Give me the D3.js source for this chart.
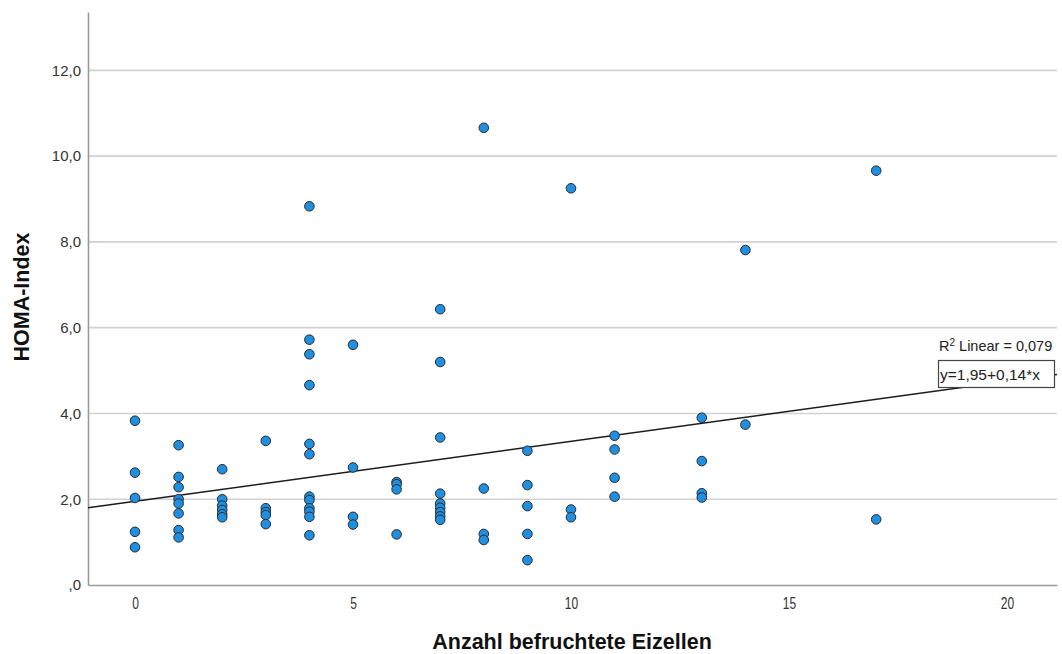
<!DOCTYPE html>
<html>
<head>
<meta charset="utf-8">
<script src="https://cdn.jsdelivr.net/npm/d3@7"></script>
<style>
  body { margin: 0; background: #fff; }
  svg { font-family: "Liberation Sans", Arial, sans-serif; }
</style>
</head>
<body>
<div id="chart"></div>
<script>
// Anzahl befruchtete Eizellen (x) and HOMA-Index (y), one entry per case
const eizellen = [
  0, 0, 0, 0, 0,
  1, 1, 1, 1, 1, 1, 1, 1,
  2, 2, 2, 2, 2, 2,
  3, 3, 3, 3, 3,
  4, 4, 4, 4, 4, 4, 4, 4, 4, 4, 4, 4,
  5, 5, 5, 5,
  6, 6, 6, 6,
  7, 7, 7, 7, 7, 7, 7, 7, 7,
  8, 8, 8, 8,
  9, 9, 9, 9, 9,
  10, 10, 10,
  11, 11, 11, 11,
  13, 13, 13, 13,
  14, 14,
  17, 17
];
const homa = [
  3.83, 2.62, 2.03, 1.24, 0.88,
  3.26, 2.52, 2.28, 2.00, 1.90, 1.67, 1.28, 1.11,
  2.70, 2.00, 1.85, 1.75, 1.65, 1.58,
  3.36, 1.79, 1.70, 1.63, 1.42,
  8.83, 5.72, 5.38, 4.66, 3.29, 3.05, 2.06, 1.98, 1.79, 1.71, 1.59, 1.16,
  5.60, 2.74, 1.59, 1.41,
  2.40, 2.35, 2.23, 1.18,
  6.43, 5.20, 3.44, 2.13, 1.90, 1.80, 1.70, 1.60, 1.52,
  10.66, 2.25, 1.19, 1.05,
  3.13, 2.33, 1.84, 1.19, 0.58,
  9.25, 1.76, 1.58,
  3.48, 3.16, 2.50, 2.06,
  3.90, 2.89, 2.14, 2.04,
  7.81, 3.74,
  9.66, 1.53
];

const xTicks = [0, 5, 10, 15, 20];
const yTicks = [0, 2, 4, 6, 8, 10, 12];

// linear fit as printed in the chart
const intercept = 1.95;
const slope = 0.14;
const rSquared = '0,079';
const fitLabel = 'y=1,95+0,14*x';

const width = 1062, height = 654;
const plot = { left: 88, right: 1057, top: 12, bottom: 585 };

const svg = d3.select('#chart').append('svg')
  .attr('width', width)
  .attr('height', height);

const x = d3.scaleLinear()
  .domain([-1.078, 21.147])
  .range([plot.left, plot.right]);

const y = d3.scaleLinear()
  .domain([0, 13.36])
  .range([plot.bottom, plot.top]);

// SPSS style german numbers: ",0", "2,0" ...
const deNum = d => d === 0 ? ',0' : d3.format('.1f')(d).replace('.', ',');

// horizontal grid lines
svg.append('g')
  .selectAll('line')
  .data(yTicks.filter(d => d > 0))
  .join('line')
  .attr('x1', plot.left)
  .attr('x2', plot.right)
  .attr('y1', d => y(d))
  .attr('y2', d => y(d))
  .style('stroke', '#d2d2d2')
  .style('stroke-width', 1.6);

// axes
const yAxis = svg.append('g')
  .attr('transform', `translate(${plot.left},0)`)
  .call(d3.axisLeft(y).tickValues(yTicks).tickFormat(deNum).tickSize(0).tickPadding(7));

const xAxis = svg.append('g')
  .attr('transform', `translate(0,${plot.bottom})`)
  .call(d3.axisBottom(x).tickValues(xTicks).tickFormat(d => d).tickSize(0).tickPadding(12));

[xAxis, yAxis].forEach(a => {
  a.select('.domain').style('stroke', '#9a9a9a').style('stroke-width', 1.6);
  a.selectAll('text').style('fill', '#333').style('font-size', '15px');
});
// x tick numbers are drawn narrow in the original
xAxis.selectAll('.tick text').attr('transform', 'scale(0.8,1.05)');

// regression line over the whole x range
const [x0, x1] = x.domain();
svg.append('line')
  .attr('x1', x(x0))
  .attr('y1', y(intercept + slope * x0))
  .attr('x2', x(x1))
  .attr('y2', y(intercept + slope * x1))
  .style('stroke', '#1c1c1c')
  .style('stroke-width', 1.5);

// points
svg.append('g')
  .selectAll('circle')
  .data(eizellen.map((e, i) => [e, homa[i]]))
  .join('circle')
  .attr('cx', d => x(d[0]))
  .attr('cy', d => y(d[1]))
  .attr('r', 4.8)
  .style('fill', '#1e8fe1')
  .style('stroke', '#2b2b2b')
  .style('stroke-width', 1);

// fit labels
const r2 = svg.append('text')
  .attr('x', 939)
  .attr('y', 351)
  .style('font-size', '14.5px')
  .style('fill', '#222');
r2.append('tspan').text('R');
r2.append('tspan').attr('dy', -5).style('font-size', '10px').text('2');
r2.append('tspan').attr('dy', 5).text(' Linear = ' + rSquared);

svg.append('rect')
  .attr('x', 938.5)
  .attr('y', 360.5)
  .attr('width', 116)
  .attr('height', 27)
  .style('fill', '#fff')
  .style('stroke', '#444')
  .style('stroke-width', 1.2);

svg.append('text')
  .attr('x', 940)
  .attr('y', 380)
  .style('font-size', '15.5px')
  .style('fill', '#222')
  .text(fitLabel);

// axis titles
svg.append('text')
  .attr('x', 572)
  .attr('y', 649)
  .attr('text-anchor', 'middle')
  .style('font-size', '21.5px')
  .style('font-weight', 'bold')
  .style('fill', '#111')
  .text('Anzahl befruchtete Eizellen');

svg.append('text')
  .attr('transform', 'translate(29,297) rotate(-90)')
  .attr('text-anchor', 'middle')
  .style('font-size', '21.5px')
  .style('font-weight', 'bold')
  .style('fill', '#111')
  .text('HOMA-Index');
</script>
</body>
</html>
